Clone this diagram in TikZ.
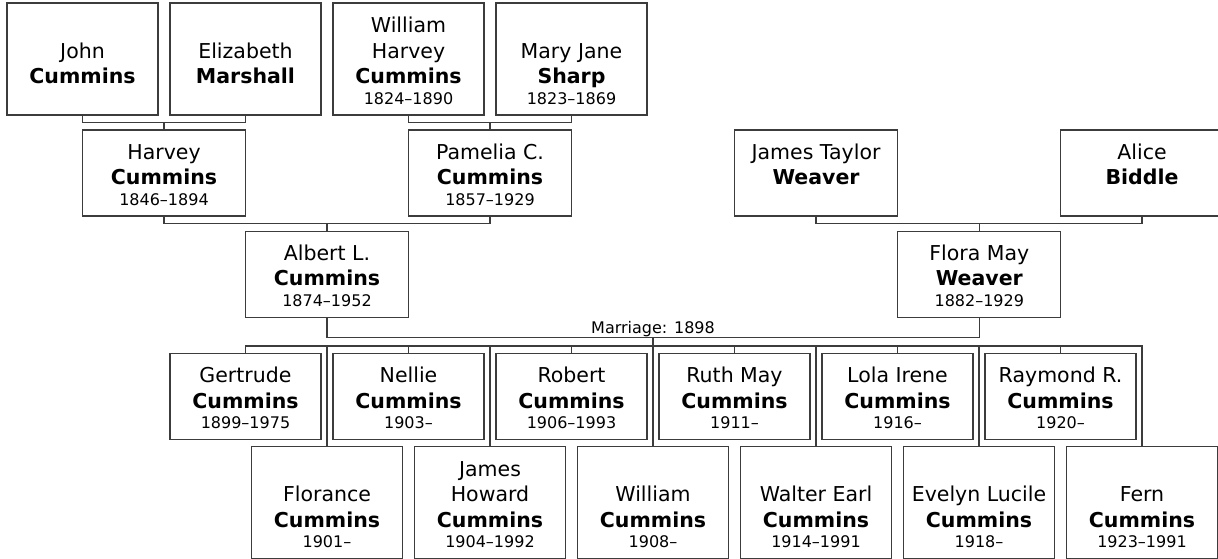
\documentclass[tikz,border=0pt]{standalone}
\usepackage{fontspec}
\setmainfont{DejaVu Sans}
\usepackage{tikz}
\usetikzlibrary{positioning, calc}

\definecolor{linegray}{HTML}{3C3C3C}
\newlength\cellh
\newcommand{\namefont}{\fontsize{20.5pt}{25.3pt}\selectfont}
\newcommand{\yearfont}{\fontsize{16pt}{20.7pt}\selectfont}
% first name(s), family name, years -- text sits on the bottom of the box
\newcommand{\who}[3]{\parbox[b][\cellh][b]{146pt}{\centering{\namefont #1\\ \textbf{#2}\par}\yearfont\mbox{}#3}}

\tikzset{
    person/.style={draw=linegray, line width=1.2pt, inner sep=0pt,
        minimum width=163pt, minimum height=86pt,
        execute at begin node={\setlength\cellh{64.8pt}}},
    narrow/.style={minimum width=151pt},
    tall/.style={minimum height=112pt,
        execute at begin node={\setlength\cellh{90.8pt}}},
    link/.style={draw=linegray, line width=1.2pt},
}

\begin{document}
\begin{tikzpicture}[x=1pt, y=-1pt]
    \useasboundingbox (0,0) rectangle (1218,558);
    \clip (0,0) rectangle (1218,558);

    % great-grandparents
    \node[person, narrow, tall] (john) at (82.5,59) {\who{John}{Cummins}{}};
    \node[person, narrow, tall] (eliz) at (245.5,59) {\who{Elizabeth}{Marshall}{}};
    \node[person, narrow, tall] (wharvey) at (408.5,59) {\who{William\\Harvey}{Cummins}{1824--1890}};
    \node[person, narrow, tall] (mary) at (571.5,59) {\who{Mary Jane}{Sharp}{1823--1869}};

    % grandparents
    \node[person] (harvey) at (164,173) {\who{Harvey}{Cummins}{1846--1894}};
    \node[person] (pamelia) at (490,173) {\who{Pamelia C.}{Cummins}{1857--1929}};
    \node[person] (jtaylor) at (816,173) {\who{James Taylor}{Weaver}{}};
    \node[person] (alice) at (1142,173) {\who{Alice}{Biddle}{}};

    % parents
    \node[person] (albert) at (327,274.3) {\who{Albert L.}{Cummins}{1874--1952}};
    \node[person] (flora) at (979.3,274.3) {\who{Flora May}{Weaver}{1882--1929}};

    % children
    \foreach \id/\first/\yrs [count=\i from 0] in {gertrude/Gertrude/1899--1975,
            nellie/Nellie/1903--, robert/Robert/1906--1993, ruth/Ruth May/1911--,
            lola/Lola Irene/1916--, raymond/Raymond R./1920--}
        \node[person, narrow] (\id) at (245.5+163*\i,396.7) {\who{\first}{Cummins}{\yrs}};
    \foreach \id/\first/\yrs [count=\i from 0] in {florance/Florance/1901--,
            jhoward/{James\\Howard}/1904--1992, william/William/1908--,
            walter/Walter Earl/1914--1991, evelyn/Evelyn Lucile/1918--,
            fern/Fern/1923--1991}
        \node[person, narrow, tall] (\id) at (327+163*\i,502.7) {\who{\first}{Cummins}{\yrs}};

    % couples
    \coordinate (j1) at ($(harvey.north)+(0,-7.3)$);
    \coordinate (j2) at ($(pamelia.north)+(0,-7.3)$);
    \coordinate (j3) at ($(albert.north)+(0,-7.3)$);
    \coordinate (j4) at ($(flora.north)+(0,-7.3)$);
    \draw[link] (john.south) |- (j1) -| (eliz.south);
    \draw[link] (j1) -- (harvey.north);
    \draw[link] (wharvey.south) |- (j2) -| (mary.south);
    \draw[link] (j2) -- (pamelia.north);
    \draw[link] (harvey.south) |- (j3) -| (pamelia.south);
    \draw[link] (j3) -- (albert.north);
    \draw[link] (jtaylor.south) |- (j4) -| (alice.south);
    \draw[link] (j4) -- (flora.north);

    % marriage and children
    \coordinate (wed) at (653,337.7);
    \coordinate (bus) at (653,346);
    \draw[link] (albert.south) |- (wed) -| (flora.south);
    \node[above=1pt of wed, inner sep=0pt, font=\yearfont] (wedlabel) {Marriage: 1898};
    \draw[link] (wed) -- (bus);
    \draw[link] (gertrude.north) |- (bus) -| (fern.north);
    \foreach \c in {nellie, robert, ruth, lola, raymond,
            florance, jhoward, william, walter, evelyn}
        \draw[link] (\c.north) -- (\c.north |- bus);
\end{tikzpicture}
\end{document}
